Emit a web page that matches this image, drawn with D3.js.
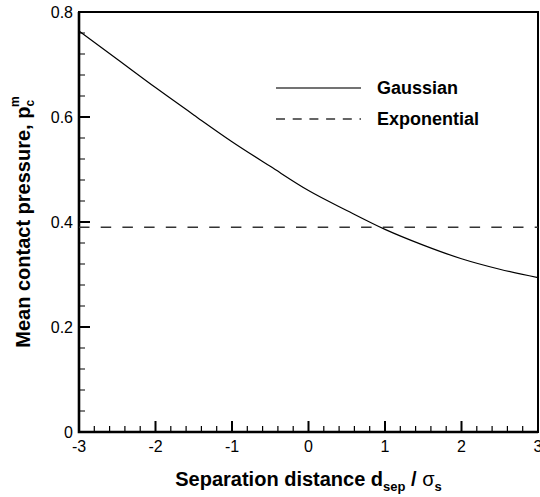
<!DOCTYPE html>
<html>
<head>
<meta charset="utf-8">
<script src="https://cdn.jsdelivr.net/npm/d3@7"></script>
<style>
  html, body { margin: 0; padding: 0; background: #fff; }
  svg { display: block; font-family: "Liberation Sans", Arial, Helvetica, sans-serif; }
</style>
</head>
<body>
<svg id="chart" width="540" height="497"></svg>
<script>
// ---- data ----
const separation = [-3, -2.5, -2, -1.5, -1, -0.5, 0, 0.5, 1, 1.5, 2, 2.5, 3];
const gaussianPressure = [0.764, 0.710, 0.656, 0.604, 0.553, 0.506, 0.460, 0.422, 0.386, 0.356, 0.330, 0.310, 0.294];
const exponentialPressure = [0.390, 0.390];
const exponentialSeparation = [-3, 3];
const seriesNames = ["Gaussian", "Exponential"];
const xMajorTicks = [-3, -2, -1, 0, 1, 2, 3];
const yMajorTicks = [0, 0.2, 0.4, 0.6, 0.8];
const xTickLabels = ["-3", "-2", "-1", "0", "1", "2", "3"];
const yTickLabels = ["0", "0.2", "0.4", "0.6", "0.8"];

// ---- layout ----
const svg = d3.select("#chart");
const mLeft = 79, mRight = 538, mTop = 12, mBottom = 432;
const x = d3.scaleLinear().domain([-3, 3]).range([mLeft, mRight]);
const y = d3.scaleLinear().domain([0, 0.8]).range([mBottom, mTop]);

const xMinor = d3.range(-3, 3.0001, 0.2).map(v => +v.toFixed(2)).filter(v => !xMajorTicks.some(t => Math.abs(t - v) < 1e-6));
const yMinor = d3.range(0, 0.8001, 0.04).map(v => +v.toFixed(2)).filter(v => !yMajorTicks.some(t => Math.abs(t - v) < 1e-6));

// frame
svg.append("rect").attr("x", mLeft).attr("y", mTop).attr("width", mRight - mLeft).attr("height", mBottom - mTop)
  .attr("fill", "none").attr("stroke", "#000").attr("stroke-width", 2);
// heavier left and bottom axes
svg.append("path").attr("d", `M${mLeft},${mTop}V${mBottom}H${mRight}`)
  .attr("fill", "none").attr("stroke", "#000").attr("stroke-width", 2.6);

// ticks (inside)
const minorPath = xMinor.map(d => `M${x(d)},${mBottom}V${mBottom - 6}`).join("") +
                  yMinor.map(d => `M${mLeft},${y(d)}H${mLeft + 6}`).join("");
const majorPath = xMajorTicks.map(d => `M${x(d)},${mBottom}V${mBottom - 11}`).join("") +
                  yMajorTicks.map(d => `M${mLeft},${y(d)}H${mLeft + 11}`).join("");
svg.append("path").attr("d", minorPath).attr("fill", "none").attr("stroke", "#000").attr("stroke-width", 1.2);
svg.append("path").attr("d", majorPath).attr("fill", "none").attr("stroke", "#000").attr("stroke-width", 2);

// tick labels
svg.append("g").selectAll("text").data(xMajorTicks).join("text")
  .attr("x", d => x(d)).attr("y", 452).attr("text-anchor", "middle")
  .attr("font-size", 16).attr("fill", "#000")
  .text((d, i) => xTickLabels[i]);
svg.append("g").selectAll("text").data(yMajorTicks).join("text")
  .attr("x", mLeft - 6).attr("y", d => y(d)).attr("dy", "0.38em").attr("text-anchor", "end")
  .attr("font-size", 16).attr("fill", "#000")
  .text((d, i) => yTickLabels[i]);

// series
const line = d3.line().x(d => x(d[0])).y(d => y(d[1]));
svg.append("path")
  .datum(exponentialSeparation.map((d, i) => [d, exponentialPressure[i]]))
  .attr("d", line).attr("fill", "none").attr("stroke", "#333").attr("stroke-width", 1.4)
  .attr("stroke-dasharray", "10.5,11.2");
svg.append("path")
  .datum(separation.map((d, i) => [d, gaussianPressure[i]]))
  .attr("d", line.curve(d3.curveMonotoneX)).attr("fill", "none").attr("stroke", "#000").attr("stroke-width", 1.2);

// legend
const lg = svg.append("g");
lg.append("line").attr("x1", 276).attr("x2", 361).attr("y1", 88).attr("y2", 88)
  .attr("stroke", "#444").attr("stroke-width", 1.3);
lg.append("line").attr("x1", 276).attr("x2", 361).attr("y1", 119).attr("y2", 119)
  .attr("stroke", "#333").attr("stroke-width", 1.3).attr("stroke-dasharray", "9,7.7");
lg.selectAll("text").data(seriesNames).join("text")
  .attr("x", 377).attr("y", (d, i) => i === 0 ? 94 : 124.5)
  .attr("font-size", 18).attr("font-weight", "bold").attr("fill", "#000")
  .text(d => d);

// axis titles
const xt = svg.append("text").attr("x", (mLeft + mRight) / 2).attr("y", 486)
  .attr("text-anchor", "middle").attr("font-size", 20).attr("font-weight", "bold").attr("fill", "#000");
xt.append("tspan").text("Separation distance d");
xt.append("tspan").attr("font-size", 13).attr("dy", 5).text("sep");
xt.append("tspan").attr("dy", -5).text(" / ");
xt.append("tspan").attr("font-weight", "normal").text("σ");
xt.append("tspan").attr("font-size", 13).attr("dy", 5).text("s");

const yt = svg.append("text")
  .attr("transform", `translate(30,${(mTop + mBottom) / 2}) rotate(-90)`)
  .attr("text-anchor", "middle").attr("font-size", 20).attr("font-weight", "bold").attr("fill", "#000");
yt.append("tspan").text("Mean contact pressure, p");
yt.append("tspan").attr("font-size", 12).attr("dy", 4).text("c");
yt.append("tspan").attr("font-size", 12).attr("dx", -7).attr("dy", -15).text("m");
</script>
</body>
</html>
